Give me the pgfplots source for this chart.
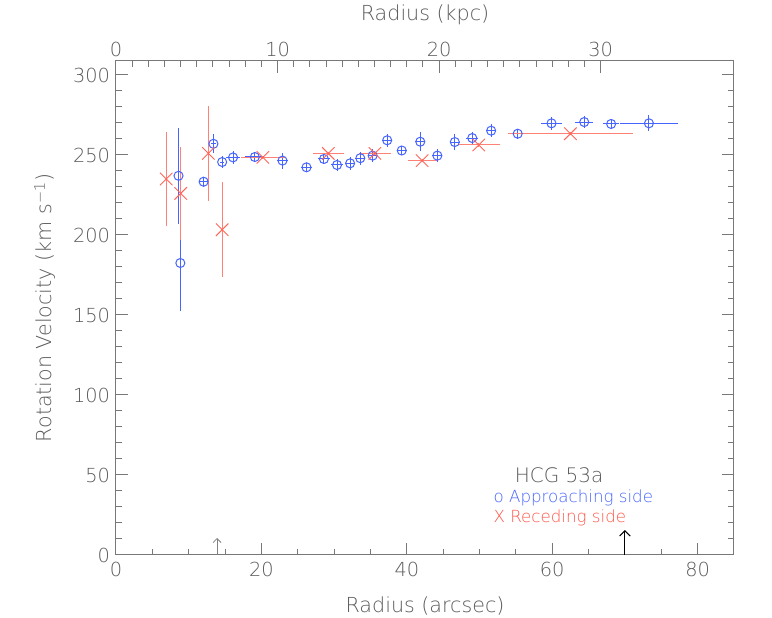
\documentclass[border=0pt]{standalone}
\usepackage{fontspec}
\setmainfont{DejaVu Sans ExtraLight}
\usepackage{pgfplots}
\pgfplotsset{compat=1.18}
\usepackage{pgfplotstable}
\usetikzlibrary{arrows.meta}
\definecolor{labelgray}{RGB}{90,90,90}
\definecolor{axisgray}{RGB}{120,120,120}
\definecolor{blueish}{RGB}{70,100,255}
\definecolor{reddish}{RGB}{255,85,70}

\pgfplotstableread{
x y ex ey
8.6 237 0 30
8.85 182.5 0 30
12.05 233.3 0.6 3
13.4 257 0.3 6
14.6 245.6 0.3 4
16.1 248.5 1.0 4
19.1 248.75 1.3 3
22.9 246.5 0.8 5
26.2 242.3 0.8 3
28.6 247.5 0.8 3
30.4 243.75 0.8 4
32.2 244.8 0.7 4
33.6 248 0.7 4
35.3 249.6 0.7 4
37.3 259.2 0.7 4
39.3 252.8 0.7 3
41.85 258.3 0.7 6
44.2 249.6 0.7 4
46.6 258.1 0.7 5
49.0 260.6 0.8 4
51.6 265.2 0.7 4
55.25 263.3 1.2 3
59.9 269.8 1.4 4
64.4 270.6 1.2 4
68.1 269.4 1.1 3
73.3 269.8 4.0 5
}\approaching

\pgfplotstableread{
x y ex ey
6.9 235 0 29.5
8.9 226 0 29
12.7 251 0 29.6
14.6 203.3 0 29.7
20.2 248.5 3.0 1
29.2 251 2.1 1
35.6 251 2.2 1
42.1 246.5 2.0 1
49.9 256.25 2.9 1
62.5 263.3 8.6 1
}\receding

\begin{document}
\begin{tikzpicture}
\pgfplotsset{
  common/.style={
    scale only axis, width=463.5pt, height=370.5pt,
    ymin=0, ymax=308.75,
    tick align=inside,
    major tick length=9pt, minor tick length=4.5pt,
    axis line style={axisgray, line width=0.75pt},
    every tick/.style={axisgray, line width=0.75pt},
    tick label style={font=\fontsize{14.5}{16}\selectfont, text=labelgray},
    /pgf/number format/assume math mode=true,
    label style={font=\fontsize{15.5}{17}\selectfont, text=labelgray},
  }
}
\begin{axis}[common,
  xmin=0, xmax=85,
  xtick={0,20,40,60,80}, minor x tick num=3,
  ytick={0,50,100,150,200,250,300}, minor y tick num=4,
  xtick pos=bottom, ytick pos=both,
  xticklabel style={yshift=-2pt},
  yticklabel style={xshift=-1pt},
  xlabel={Radius (arcsec)},
  ylabel={Rotation Velocity (km s\textsuperscript{−1})},
  xlabel style={at={([yshift=-38.25pt]axis description cs:0.5,0)}, anchor=center},
  ylabel style={at={([xshift=-53.25pt]axis description cs:0,0.5)}, anchor=center},
]
\addplot[only marks, mark=o, mark size=3.4pt, blueish, line width=0.75pt,
  error bars/.cd, x dir=both, x explicit, y dir=both, y explicit,
  error mark=none, error bar style={blueish, line width=0.75pt}]
  table[x=x, y=y, x error=ex, y error=ey]{\approaching};
\addplot[only marks, mark=x, mark size=6.6pt, reddish!90, line width=0.7pt,
  error bars/.cd, x dir=both, x explicit, y dir=both, y explicit,
  error mark=none, error bar style={reddish!75, line width=0.75pt}]
  table[x=x, y=y, x error=ex, y error=ey]{\receding};

\node[anchor=west, text=labelgray, font=\fontsize{15}{17}\selectfont] at (axis cs:54.2,50) {HCG 53a};
\node[anchor=west, text=blueish, font=\fontsize{12.5}{14}\selectfont] at (axis cs:51.3,35.6) {o Approaching side};
\node[anchor=west, text=reddish, font=\fontsize{12.5}{14}\selectfont] at (axis cs:51.3,23) {X Receding side};

\draw[gray, line width=0.6pt, -{Straight Barb[length=3pt, width=6pt]}] (axis cs:13.9,0) -- (axis cs:13.9,10.6);
\draw[black, line width=0.75pt, -{Straight Barb[length=4pt, width=8pt]}] (axis cs:70.0,0) -- (axis cs:70.0,15.6);
\end{axis}

\begin{axis}[common,
  xmin=0, xmax=38.25,
  axis x line*=top, axis y line=none,
  xtick={0,10,20,30}, minor x tick num=9,
  xlabel={Radius (kpc)},
  xlabel style={at={([yshift=34.5pt]axis description cs:0.5,1)}, anchor=center},
]
\addplot[draw=none] coordinates {(0,0) (38.25,308.75)};
\end{axis}
\pgfresetboundingbox
\path (-87pt,-47.25pt) rectangle (492pt,416.25pt);
\end{tikzpicture}
\end{document}
